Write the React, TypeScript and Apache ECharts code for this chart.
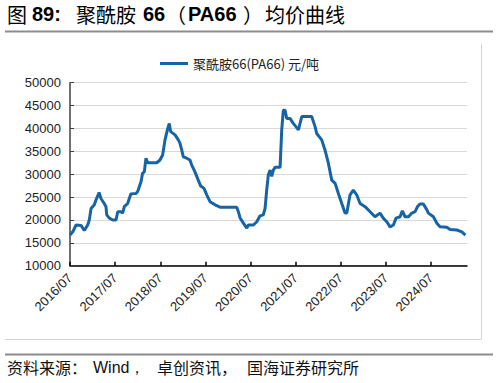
import React, { useEffect, useRef } from "react";
import * as echarts from "echarts";

const dates: string[] = [
  "2016-07-01","2016-07-23","2016-08-19","2016-09-29","2016-10-25","2016-11-22","2016-12-05","2016-12-19",
  "2017-01-15","2017-01-29","2017-02-23","2017-03-08","2017-04-04","2017-04-18","2017-04-24","2017-05-15",
  "2017-06-12","2017-07-08","2017-07-22","2017-08-18","2017-09-01","2017-09-14","2017-10-11","2017-10-24",
  "2017-11-07","2017-12-17","2018-01-01","2018-01-28","2018-02-10","2018-02-24","2018-03-07","2018-03-21",
  "2018-06-03","2018-06-29","2018-07-20","2018-08-09","2018-08-28","2018-09-13","2018-09-24","2018-10-29",
  "2018-11-25","2018-12-08","2018-12-22","2019-01-05","2019-02-02","2019-02-28","2019-03-12","2019-04-08",
  "2019-05-04","2019-05-24","2019-06-20","2019-07-12","2019-08-08","2019-09-18","2019-10-28","2020-03-11",
  "2020-03-24","2020-04-07","2020-05-04","2020-06-01","2020-06-14","2020-07-24","2020-08-21","2020-09-17",
  "2020-10-13","2020-10-27","2020-11-10","2020-11-23","2020-12-07","2020-12-20","2021-01-03","2021-01-17",
  "2021-02-27","2021-03-10","2021-03-23","2021-04-06","2021-04-20","2021-05-16","2021-06-12","2021-07-23",
  "2021-08-20","2021-11-09","2021-12-06","2021-12-19","2022-01-29","2022-02-25","2022-03-22","2022-04-19",
  "2022-05-16","2022-06-12","2022-07-09","2022-08-05","2022-08-19","2022-09-15","2022-10-11","2022-11-08",
  "2022-12-05","2023-01-15","2023-02-25","2023-04-04","2023-05-14","2023-06-10","2023-07-08","2023-08-04",
  "2023-08-31","2023-09-22","2023-10-24","2023-11-12","2023-12-04","2023-12-31","2024-01-28","2024-02-24",
  "2024-03-15","2024-04-03","2024-04-30","2024-05-28","2024-06-10","2024-07-20","2024-08-17","2024-09-13",
  "2024-11-07","2024-12-03","2025-01-27","2025-03-07","2025-04-05",
];

const prices: number[] = [
  16700,17400,18900,18800,17700,18900,20000,22500,
  23300,24400,26000,24700,23600,22900,21100,20400,
  20000,20000,21800,21800,21500,22900,23600,24700,
  25700,25800,26200,28400,30200,30500,33500,32500,
  32500,33100,34200,37500,39700,41100,39300,38600,
  37500,36800,35300,33800,33500,33100,32000,30500,
  28700,27400,26900,25500,24000,23300,22800,22800,
  21800,20500,19300,18200,18900,18900,19600,20900,
  21100,22500,26500,29800,30900,29500,30900,31500,
  31500,39700,44000,44000,42200,42200,41100,39700,
  42600,42600,40400,38900,37500,35300,32400,28700,
  28000,25800,23600,21500,21500,25500,26500,25500,
  23600,22900,21800,20700,21500,20400,19600,18500,
  18900,20400,20700,22000,20700,20700,21500,21800,
  23000,23500,23500,22200,21500,20700,19300,18500,
  18400,17900,17800,17400,16700,
];

const axisStart = "2016-07-01";
const axisEnd = "2025-04-18";
const yTicks: number[] = [10000, 15000, 20000, 25000, 30000, 35000, 40000, 45000, 50000];
const seriesName = "聚酰胺66(PA66) 元/吨";
const titleParts: string[] = ["图", "89:", "聚酰胺", "66", "（", "PA66", "）", "均价曲线"];
const sourceParts: string[] = ["资料来源：", "Wind，", "卓创资讯，", "国海证券研究所"];

function monthOffset(d: string): number {
  const [y, m, day] = d.split("-").map(Number);
  const [y0, m0] = axisStart.split("-").map(Number);
  return (y - y0) * 12 + (m - m0) + (day - 1) / 30;
}

export default function App() {
  const ref = useRef<HTMLDivElement>(null);
  useEffect(() => {
    if (!ref.current) return;
    const chart = echarts.init(ref.current, undefined, { renderer: "svg" });
    const data = dates.map((d, i) => [monthOffset(d), prices[i]]);
    const latin = "'Liberation Sans', Arial, sans-serif";
    const cjk = "'Noto Sans CJK SC', sans-serif";

    const titleX = [7, 32, 76, 143, 166, 188, 243, 265];
    const titleLatin = [false, true, false, true, false, true, false, false];
    const titleTexts = titleParts.map((t, i) => ({
      type: "text",
      x: titleX[i],
      y: 14,
      style: {
        text: t,
        fontFamily: titleLatin[i] ? latin : cjk,
        fontSize: 20,
        fontWeight: titleLatin[i] ? "bold" : "normal",
        fill: "#000",
        verticalAlign: "middle",
      },
    }));
    const sourceX = [7, 93, 157, 247];
    const sourceTexts = sourceParts.map((t, i) => ({
      type: "text",
      x: sourceX[i],
      y: 367,
      style: {
        text: t,
        fontFamily: i === 1 ? latin : cjk,
        fontSize: 16,
        fill: "#111",
        verticalAlign: "middle",
      },
    }));

    chart.setOption({
      animation: false,
      backgroundColor: "#fff",
      grid: { left: 70, right: 31, top: 82.7, bottom: 117.3, containLabel: false },
      legend: {
        top: 52,
        left: 155,
        icon: "rect",
        itemWidth: 28,
        itemHeight: 3,
        itemGap: 8,
        textStyle: { fontFamily: cjk, fontSize: 13, color: "#222" },
        data: [seriesName],
      },
      xAxis: {
        type: "value",
        min: 0,
        max: monthOffset(axisEnd),
        interval: 12,
        splitLine: { show: false },
        axisLine: { show: true, lineStyle: { color: "#000", width: 1.5 } },
        axisTick: { show: true, inside: true, length: 4, lineStyle: { color: "#000", width: 1.5 } },
        axisLabel: {
          rotate: 45,
          margin: 10,
          showMaxLabel: false,
          fontFamily: latin,
          fontSize: 13,
          color: "#222",
          formatter: (v: number) => `${2016 + Math.round(v / 12)}/07`,
        },
      },
      yAxis: {
        type: "value",
        min: yTicks[0],
        max: yTicks[yTicks.length - 1],
        interval: 5000,
        axisLine: { show: true, lineStyle: { color: "#404040", width: 1.5 } },
        axisTick: { show: true, inside: true, length: 4, lineStyle: { color: "#404040" } },
        splitLine: { show: true, lineStyle: { color: "#d9d9d9", width: 1 } },
        axisLabel: {
          margin: 9,
          fontFamily: latin,
          fontSize: 13,
          color: "#222",
          formatter: (v: number) => String(v),
        },
      },
      series: [
        {
          name: seriesName,
          type: "line",
          data,
          showSymbol: false,
          symbol: "none",
          lineStyle: { color: "#1764a5", width: 3 },
          itemStyle: { color: "#1764a5" },
        },
      ],
      graphic: [
        ...titleTexts,
        {
          type: "line",
          shape: { x1: 5, y1: 31.5, x2: 493, y2: 31.5 },
          style: { stroke: "#8c8c8c", lineWidth: 2 },
        },
        {
          type: "line",
          shape: { x1: 481.5, y1: 44, x2: 481.5, y2: 339 },
          style: { stroke: "#d4d4d4", lineWidth: 1 },
        },
        {
          type: "line",
          shape: { x1: 5, y1: 339.5, x2: 481.5, y2: 339.5 },
          style: { stroke: "#d4d4d4", lineWidth: 1 },
        },
        {
          type: "line",
          shape: { x1: 5, y1: 354.5, x2: 493, y2: 354.5 },
          style: { stroke: "#8c8c8c", lineWidth: 2 },
        },
        ...sourceTexts,
      ],
    });
    return () => chart.dispose();
  }, []);
  return (
    <div
      ref={ref}
      style={{ position: "absolute", left: 0, top: 0, width: 498, height: 383, background: "#fff" }}
    />
  );
}
